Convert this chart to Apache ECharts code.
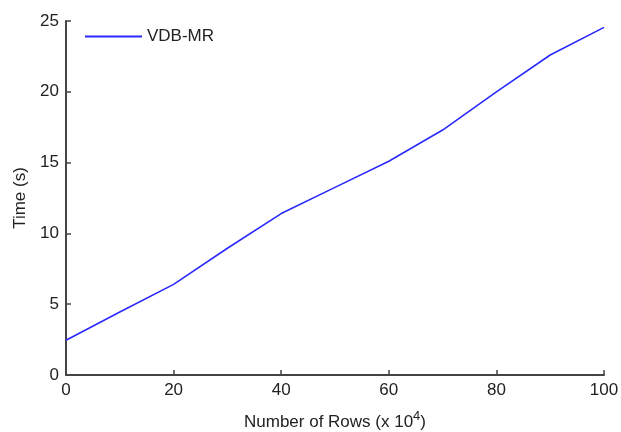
<!DOCTYPE html>
<html>
<head>
<meta charset="utf-8">
<script src="https://cdn.jsdelivr.net/npm/echarts@6/dist/echarts.min.js"></script>
<style>
  html, body { margin: 0; padding: 0; background: #fff; }
  #chart { width: 621px; height: 432px; }
</style>
</head>
<body>
<div id="chart"></div>
<script>
// rows (x 10^4) and run time in seconds
const rows = [0, 10, 20, 30, 40, 50, 60, 70, 80, 90, 100];
const timeVdbMr = [2.45, 4.45, 6.4, 8.95, 11.4, 13.25, 15.1, 17.3, 20.0, 22.6, 24.55];
const seriesName = "VDB-MR";

const FONT = "'Liberation Sans', Arial, sans-serif";
const AXIS_COLOR = "#444";
const TEXT_COLOR = "#222";
const LINE_COLOR = "#2a2aff";

const chart = echarts.init(document.getElementById("chart"));

chart.setOption({
  animation: false,
  backgroundColor: "#fff",
  textStyle: { fontFamily: FONT },
  grid: { left: 66, right: 17, top: 21, bottom: 57, containLabel: false, outerBoundsMode: "none" },
  legend: {
    left: 85,
    top: 28,
    padding: 0,
    icon: "rect",
    itemWidth: 57,
    itemHeight: 2,
    textStyle: { fontSize: 17, color: TEXT_COLOR, fontFamily: FONT },
    data: [seriesName],
  },
  xAxis: {
    type: "value",
    min: 0,
    max: 100,
    interval: 20,
    name: "Number of Rows (x 10{sup|4})",
    nameLocation: "middle",
    nameGap: 35,
    nameTextStyle: {
      fontSize: 17,
      color: TEXT_COLOR,
      fontFamily: FONT,
      lineHeight: 24,
      rich: {
        sup: { fontSize: 13, verticalAlign: "top", lineHeight: 12, color: TEXT_COLOR, fontFamily: FONT },
      },
    },
    axisLine: { show: true, lineStyle: { color: AXIS_COLOR, width: 2 } },
    axisTick: { show: true, inside: true, length: 5, lineStyle: { color: AXIS_COLOR, width: 1.5 } },
    axisLabel: { fontSize: 17, color: TEXT_COLOR, margin: 7, fontFamily: FONT },
    splitLine: { show: false },
  },
  yAxis: {
    type: "value",
    min: 0,
    max: 25,
    interval: 5,
    name: "Time (s)",
    nameLocation: "middle",
    nameRotate: 90,
    nameGap: 32,
    nameTextStyle: { fontSize: 17, color: TEXT_COLOR, fontFamily: FONT },
    axisLine: { show: true, lineStyle: { color: AXIS_COLOR, width: 2 } },
    axisTick: { show: true, inside: true, length: 5, lineStyle: { color: AXIS_COLOR, width: 1.5 } },
    axisLabel: { fontSize: 17, color: TEXT_COLOR, margin: 7, fontFamily: FONT },
    splitLine: { show: false },
  },
  series: [
    {
      name: seriesName,
      type: "line",
      showSymbol: false,
      smooth: false,
      itemStyle: { color: LINE_COLOR },
      lineStyle: { color: LINE_COLOR, width: 1.6 },
      data: rows.map((r, i) => [r, timeVdbMr[i]]),
    },
  ],
});
</script>
</body>
</html>
